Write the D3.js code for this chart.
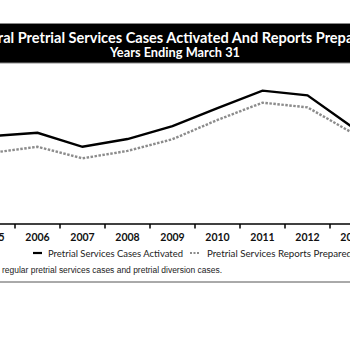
<!DOCTYPE html>
<html>
<head>
<meta charset="utf-8">
<script src="https://cdn.jsdelivr.net/npm/d3@7"></script>
<style>
  body { margin: 0; background: #fff; }
  svg { display: block; }
</style>
</head>
<body>
<div id="chart"></div>
<script>
// data
const years = ['2005', '2006', '2007', '2008', '2009', '2010', '2011', '2012', '2013'];
const casesActivated = [88900, 90700, 82900, 87200, 94400, 104400, 114100, 111500, 93700];
const reportsPrepared = [79600, 82900, 76500, 80600, 87100, 97800, 107400, 104800, 90600];
const seriesNames = ['Pretrial Services Cases Activated', 'Pretrial Services Reports Prepared'];

const W = 350, H = 350;
const font = 'Lato, "Open Sans", sans-serif';

const svg = d3.select('#chart').append('svg')
  .attr('width', W).attr('height', H);

// title bar
svg.append('rect')
  .attr('x', -2).attr('y', 23.5).attr('width', W + 4).attr('height', 39.5)
  .attr('fill', '#000').attr('stroke', '#888').attr('stroke-width', 1);

svg.append('text')
  .attr('x', 170.5).attr('y', 42.5)
  .attr('text-anchor', 'middle')
  .attr('textLength', 408).attr('lengthAdjust', 'spacingAndGlyphs')
  .attr('font-family', font).attr('font-weight', 'bold').attr('font-size', 14.5)
  .attr('fill', '#fff')
  .text('Federal Pretrial Services Cases Activated And Reports Prepared');

svg.append('text')
  .attr('x', 175).attr('y', 57)
  .attr('text-anchor', 'middle')
  .attr('textLength', 130).attr('lengthAdjust', 'spacingAndGlyphs')
  .attr('font-family', font).attr('font-weight', 'bold').attr('font-size', 13)
  .attr('fill', '#fff')
  .text('Years Ending March 31');

// scales
const x = d3.scaleBand().domain(years).range([-30, 375]).padding(0);
const y = d3.scaleLinear().domain([40000, 120000]).range([224, 80]);
const cx = d => x(d) + x.bandwidth() / 2;

// axis
const axisY = 224;
const axis = svg.append('g')
  .attr('transform', `translate(0,${axisY})`)
  .call(d3.axisBottom(x).tickSize(0).tickPadding(9.5));
axis.select('.domain').remove();
axis.selectAll('text')
  .attr('font-family', font).attr('font-size', 10.5).attr('font-weight', 'bold')
  .attr('fill', '#111');

svg.append('line')
  .attr('x1', 0).attr('x2', W).attr('y1', axisY).attr('y2', axisY)
  .attr('stroke', '#000').attr('stroke-width', 1.5);

svg.append('g').selectAll('line')
  .data(years.slice(1))
  .join('line')
  .attr('x1', d => x(d)).attr('x2', d => x(d))
  .attr('y1', axisY).attr('y2', axisY + 4.5)
  .attr('stroke', '#000').attr('stroke-width', 1.5);

// lines
const line = d3.line().x((d, i) => cx(years[i])).y(d => y(d));

svg.append('path')
  .datum(reportsPrepared)
  .attr('d', line)
  .attr('fill', 'none')
  .attr('stroke', '#8c8c8c').attr('stroke-width', 2.4)
  .attr('stroke-dasharray', '2.5,1.5');

svg.append('path')
  .datum(casesActivated)
  .attr('d', line)
  .attr('fill', 'none')
  .attr('stroke', '#000').attr('stroke-width', 2.4);

// legend
const leg = svg.append('g');
leg.append('line')
  .attr('x1', 33).attr('x2', 42).attr('y1', 253).attr('y2', 253)
  .attr('stroke', '#000').attr('stroke-width', 2.2);
leg.append('text')
  .attr('x', 48).attr('y', 256.5)
  .attr('textLength', 135).attr('lengthAdjust', 'spacingAndGlyphs')
  .attr('font-family', font).attr('font-size', 10).attr('fill', '#222')
  .text(seriesNames[0]);
leg.append('line')
  .attr('x1', 190).attr('x2', 200).attr('y1', 253).attr('y2', 253)
  .attr('stroke', '#8c8c8c').attr('stroke-width', 2.2)
  .attr('stroke-dasharray', '2,1.5');
leg.append('text')
  .attr('x', 207).attr('y', 256.5)
  .attr('textLength', 145).attr('lengthAdjust', 'spacingAndGlyphs')
  .attr('font-family', font).attr('font-size', 10).attr('fill', '#222')
  .text(seriesNames[1]);

// footnote
svg.append('text')
  .attr('x', 2).attr('y', 272.5)
  .attr('textLength', 220).attr('lengthAdjust', 'spacingAndGlyphs')
  .attr('font-family', '"Liberation Sans", Arial, sans-serif').attr('font-size', 8.3)
  .attr('fill', '#222')
  .text('regular pretrial services cases and pretrial diversion cases.');

svg.append('line')
  .attr('x1', 0).attr('x2', W).attr('y1', 282).attr('y2', 282)
  .attr('stroke', '#555').attr('stroke-width', 1);
</script>
</body>
</html>
